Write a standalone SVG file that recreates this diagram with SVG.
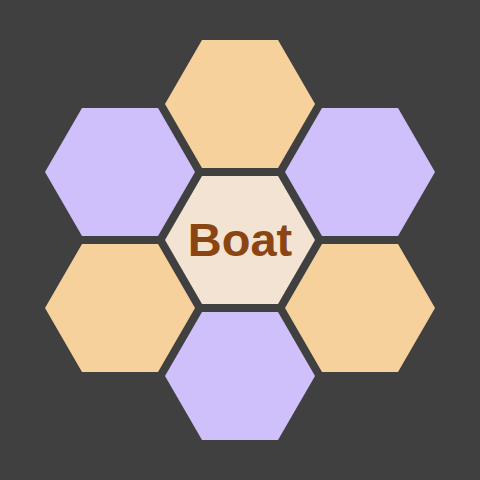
<svg xmlns="http://www.w3.org/2000/svg" width="480" height="480" viewBox="0 0 480 480">
<defs>
<style>
.o{fill:#F7D19C}
.p{fill:#CFC0FC}
.c{fill:#F2E3D2}
.t{font-family:"Liberation Sans",Arial,sans-serif;font-weight:bold;font-size:47px;fill:#8B4513;text-anchor:middle}
</style>
<polygon id="hex" points="-75,0 -38,-64 38,-64 75,0 38,64 -38,64"/>
</defs>
<rect width="480" height="480" fill="#404040"/>
<g id="top"><use href="#hex" class="o" transform="translate(240,104)"/></g>
<g id="upper-left"><use href="#hex" class="p" transform="translate(120,172)"/></g>
<g id="upper-right"><use href="#hex" class="p" transform="translate(360,172)"/></g>
<g id="lower-left"><use href="#hex" class="o" transform="translate(120,308)"/></g>
<g id="lower-right"><use href="#hex" class="o" transform="translate(360,308)"/></g>
<g id="bottom"><use href="#hex" class="p" transform="translate(240,376)"/></g>
<g id="center"><use href="#hex" class="c" transform="translate(240,240)"/><text class="t" x="240" y="255.5">Boat</text></g>
<g id="connectors"/>
</svg>
